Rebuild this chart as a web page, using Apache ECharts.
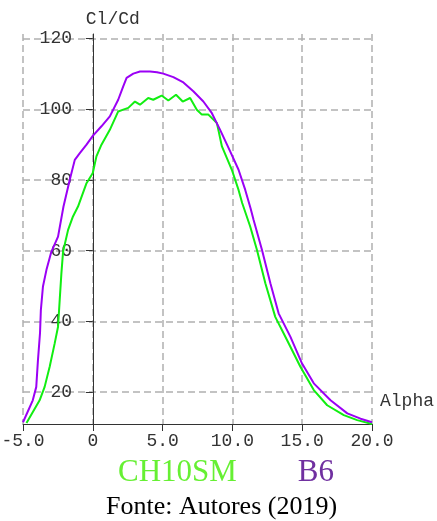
<!DOCTYPE html>
<html>
<head>
<meta charset="utf-8">
<script src="https://cdn.jsdelivr.net/npm/echarts@6/dist/echarts.min.js"></script>
<style>
  html, body { margin: 0; padding: 0; background: #fff; }
  #chart { width: 437px; height: 521px; }
</style>
</head>
<body>
<div id="chart"></div>
<script>
// Cl/Cd vs Alpha
const b6Alpha = [-5.0, -4.3, -4.05, -3.93, -3.78, -3.72, -3.57, -3.32, -2.97, -2.49, -2.1, -1.65, -1.29, -0.93, -0.45, 0.0, 0.62, 1.22, 1.82, 2.18, 2.42, 2.9, 3.38, 4.1, 4.6, 5.05, 5.77, 6.49, 7.2, 7.92, 8.53, 9.12, 9.84, 10.44, 10.92, 11.3, 11.52, 12.12, 12.72, 13.31, 14.15, 14.99, 15.83, 17.03, 18.23, 19.18, 20.0];
const b6ClCd = [11.5, 17.7, 21.5, 29.0, 36.8, 43.3, 49.9, 54.6, 59.7, 64.0, 72.5, 80.1, 85.7, 87.6, 90.0, 92.5, 95.2, 98.0, 102.7, 106.5, 108.9, 110.1, 110.7, 110.7, 110.5, 110.1, 109.1, 107.6, 105.1, 102.2, 98.9, 94.2, 88.1, 82.9, 77.2, 72.0, 68.7, 60.2, 50.8, 42.3, 35.7, 28.1, 22.5, 17.7, 14.0, 12.5, 11.5];

const chAlpha = [-4.75, -3.81, -3.45, -3.09, -2.73, -2.49, -2.37, -2.25, -2.13, -1.77, -1.42, -1.06, -0.45, 0.0, 0.26, 0.62, 1.22, 1.82, 2.18, 2.54, 3.02, 3.38, 3.97, 4.33, 4.93, 5.41, 5.96, 6.44, 6.97, 7.45, 7.81, 8.28, 8.89, 9.25, 9.96, 10.44, 10.7, 11.28, 11.76, 12.36, 13.07, 13.92, 14.87, 15.83, 16.79, 17.98, 18.94, 20.0];
const chClCd = [11.3, 17.7, 21.5, 27.2, 33.8, 38.5, 46.1, 53.6, 59.7, 65.9, 69.7, 72.5, 79.1, 82.0, 86.7, 90.0, 94.2, 99.4, 99.9, 100.4, 102.2, 101.3, 103.2, 102.7, 103.9, 102.5, 104.1, 102.2, 103.2, 99.9, 98.5, 98.5, 96.1, 89.5, 82.9, 77.2, 73.5, 66.8, 60.2, 50.8, 41.3, 34.7, 27.2, 20.6, 16.3, 13.5, 12.1, 11.0];

const yTicks = [20, 40, 60, 80, 100, 120];
const seriesNames = ['CH10SM', 'B6'];

const mono = '"Liberation Mono", "DejaVu Sans Mono", monospace';
const serif = '"Liberation Serif", "DejaVu Serif", serif';

const pairs = (xs, ys) => xs.map((x, i) => [x, ys[i]]);

const chart = echarts.init(document.getElementById('chart'));

const gridLine = {
  show: true,
  lineStyle: { color: '#b0b0b0', width: 1.5, type: [7, 4] }
};

chart.setOption({
  animation: false,
  grid: {
    left: 23,
    right: 65,
    top: 34,
    bottom: 97,
    outerBoundsMode: 'none'
  },
  legend: {
    data: [
      { name: seriesNames[0], textStyle: { color: '#66f033' } },
      { name: seriesNames[1], textStyle: { color: '#7030a0' } }
    ],
    icon: 'none',
    itemWidth: 0,
    itemGap: 56,
    left: 113,
    top: 457,
    padding: 0,
    textStyle: { fontFamily: serif, fontSize: 31 }
  },
  xAxis: {
    type: 'value',
    min: -5,
    max: 20,
    interval: 5,
    name: 'Alpha',
    nameLocation: 'end',
    nameGap: 8,
    nameMoveOverlap: false,
    nameTextStyle: {
      fontFamily: mono, fontSize: 18, color: '#333',
      verticalAlign: 'bottom', padding: [0, 0, 14, 0]
    },
    axisLine: { lineStyle: { color: '#333', width: 1 } },
    axisTick: { show: true, length: 7, lineStyle: { color: '#333' } },
    axisLabel: {
      margin: 8,
      fontFamily: mono,
      fontSize: 18,
      color: '#333',
      formatter: v => (v === 0 ? '0' : v.toFixed(1))
    },
    splitLine: gridLine
  },
  yAxis: {
    type: 'value',
    min: 11,
    max: 121.3,
    name: 'Cl/Cd',
    nameLocation: 'end',
    nameGap: 6,
    nameTextStyle: { fontFamily: mono, fontSize: 18, color: '#333', padding: [0, 0, 0, 40] },
    axisLine: { onZero: true, lineStyle: { color: '#333', width: 1 } },
    axisTick: { show: true, length: 7, customValues: yTicks, lineStyle: { color: '#333' } },
    axisLabel: {
      margin: -49,
      fontFamily: mono,
      fontSize: 18,
      color: '#333',
      customValues: yTicks
    },
    splitLine: gridLine
  },
  series: [
    {
      name: seriesNames[0],
      type: 'line',
      data: pairs(chAlpha, chClCd),
      showSymbol: false,
      lineStyle: { color: '#11ee11', width: 2 },
      itemStyle: { color: '#11ee11' }
    },
    {
      name: seriesNames[1],
      type: 'line',
      data: pairs(b6Alpha, b6ClCd),
      showSymbol: false,
      lineStyle: { color: '#9b00f5', width: 2 },
      itemStyle: { color: '#9b00f5' }
    }
  ],
  graphic: [
    {
      type: 'text',
      left: 106,
      top: 494,
      style: {
        text: 'Fonte: Autores (2019)',
        fontFamily: serif,
        fontSize: 26,
        fill: '#000'
      }
    }
  ]
});
</script>
</body>
</html>
